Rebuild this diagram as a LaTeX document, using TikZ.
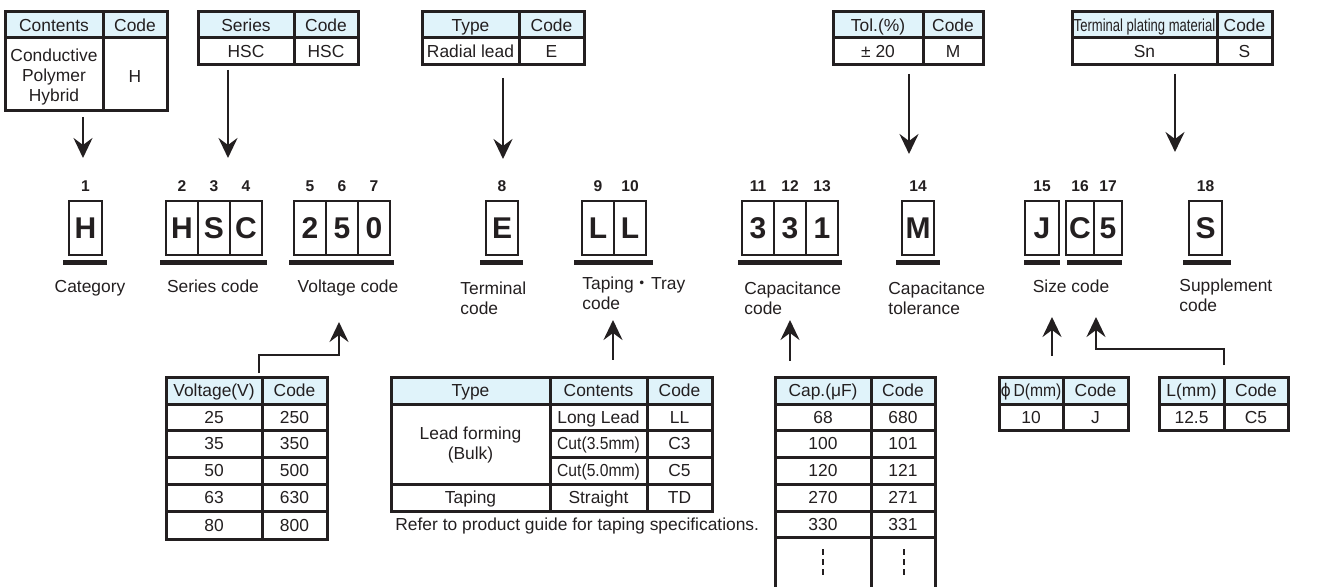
\documentclass[tikz,border=0pt]{standalone}
\usepackage{fontspec}
\setmainfont{Liberation Sans}
\newfontfamily\cjk{Noto Sans CJK JP}
\newfontfamily\dejavu{DejaVu Sans}
\usetikzlibrary{arrows.meta,positioning}
\definecolor{ink}{RGB}{35,31,32}
\definecolor{headblue}{RGB}{224,243,250}

\begin{document}
\begin{tikzpicture}[x=0.5pt, y=-0.5pt,
    every node/.style={inner sep=0pt, text=ink},
    tbl/.style={draw=ink, line width=1.5pt},
    hdr/.style={fill=headblue},
    cell/.style={font=\fontsize{8.7}{10}\selectfont, text height=6.3pt, text depth=0pt},
    mcell/.style={font=\fontsize{8.7}{10}\selectfont, align=center},
    lbl/.style={font=\fontsize{8.7}{10}\selectfont, align=left},
    num/.style={font=\bfseries\fontsize{7.8}{9}\selectfont},
    codebox/.style={draw=ink, line width=0.6pt, minimum width=16pt, minimum height=27pt,
        font=\bfseries\fontsize{15}{18}\selectfont, text height=10.8pt, text depth=0pt},
    bar/.style={draw=ink, line width=2.5pt},
    arr/.style={draw=ink, line width=1.4pt, line join=miter,
        -{Stealth[length=10pt, width=9.5pt, inset=3.5pt]}}]
    \useasboundingbox (0,0) rectangle (1321,587);

    % Top tables
    \fill[hdr] (5,12) rectangle (167,38);
    \draw[tbl] (5,12) rectangle (167,111) (5,38) -- (167,38) (103,12) -- (103,111);
    \node[cell] (conth) at (54,25) {Contents};
    \node[cell] (contc) at (135,25) {Code};
    \node[mcell] (contv) at (54,77) {Conductive\\Polymer\\Hybrid};
    \node[cell] (contk) at (135,76) {H};

    \fill[hdr] (198,12) rectangle (358,38);
    \draw[tbl] (198,12) rectangle (358,65) (198,38) -- (358,38) (294,12) -- (294,65);
    \node[cell] (serh) at (246,25) {Series};
    \node[cell] (serc) at (326,25) {Code};
    \node[cell] (serv) at (246,51.5) {HSC};
    \node[cell] (serk) at (326,51.5) {HSC};

    \fill[hdr] (422,12) rectangle (584,38);
    \draw[tbl] (422,12) rectangle (584,65) (422,38) -- (584,38) (519,12) -- (519,65);
    \node[cell] (typh) at (470.5,25) {Type};
    \node[cell] (typc) at (551.5,25) {Code};
    \node[cell] (typv) at (470.5,51.5) {Radial lead};
    \node[cell] (typk) at (551.5,51.5) {E};

    \fill[hdr] (833,12) rectangle (983,38);
    \draw[tbl] (833,12) rectangle (983,65) (833,38) -- (983,38) (923,12) -- (923,65);
    \node[cell] (tolh) at (878,25) {Tol.(\%)};
    \node[cell] (tolc) at (953,25) {Code};
    \node[cell] (tolv) at (878,51.5) {± 20};
    \node[cell] (tolk) at (953,51.5) {M};

    \fill[hdr] (1072,12) rectangle (1272,38);
    \draw[tbl] (1072,12) rectangle (1272,65) (1072,38) -- (1272,38) (1217,12) -- (1217,65);
    \node[cell] (plth) at (1144.5,25) {\scalebox{0.75}[1]{Terminal plating material}};
    \node[cell] (pltc) at (1244.5,25) {Code};
    \node[cell] (pltv) at (1144.5,51.5) {Sn};
    \node[cell] (pltk) at (1244.5,51.5) {S};

    % Down arrows
    \coordinate (contout) at (83,117);  \coordinate (catin) at (83,158);
    \coordinate (serout) at (228,70);   \coordinate (serin) at (228,158);
    \coordinate (typout) at (503,78);   \coordinate (terin) at (503,159);
    \coordinate (tolout) at (909,74);   \coordinate (tolin) at (909,154);
    \coordinate (pltout) at (1175,74);  \coordinate (supin) at (1175,152);
    \draw[arr] (contout) -- (catin);
    \draw[arr] (serout) -- (serin);
    \draw[arr] (typout) -- (terin);
    \draw[arr] (tolout) -- (tolin);
    \draw[arr] (pltout) -- (supin);

    % Code boxes
    \node[codebox, minimum width=16.5pt] (b1) at (85.5,228) {H};
    \foreach \ch [count=\i from 2] in {H,S,C}
        \node[codebox] (b\i) at (182+32*\i-64,228) {\ch};
    \foreach \ch [count=\i from 5] in {2,5,0}
        \node[codebox] (b\i) at (310+32*\i-160,228) {\ch};
    \node[codebox] (b8) at (502,228) {E};
    \foreach \ch [count=\i from 9] in {L,L}
        \node[codebox] (b\i) at (598+32*\i-288,228) {\ch};
    \foreach \ch [count=\i from 11] in {3,3,1}
        \node[codebox] (b\i) at (758+32*\i-352,228) {\ch};
    \node[codebox] (b14) at (918,228) {M};
    \node[codebox, minimum width=17pt] (b15) at (1042,228) {J};
    \foreach \ch [count=\i from 16] in {C,5}
        \node[codebox, minimum width=14pt] (b\i) at (1080+28*\i-448,228) {\ch};
    \node[codebox, minimum width=16.5pt] (b18) at (1205.5,228) {S};
    \foreach \i in {1,...,18}
        \node[num, above=4pt of b\i] (n\i) {\i};

    % Underline bars
    \foreach \a/\b in {63/107,160/267,289/394,480/523,574/653,738/842,896/940,1024/1060,1067/1122,1183/1231}
        \draw[bar] (\a,263) -- (\b,263);

    % Field labels
    \node[lbl, anchor=base] (catlbl) at (90,293) {Category};
    \node[lbl, anchor=base] (serlbl) at (213,293) {Series code};
    \node[lbl, anchor=base] (vollbl) at (348,293) {Voltage code};
    \node[lbl, anchor=north west] (terlbl) at (460,281) {Terminal\\code};
    \node[lbl, anchor=north west] (taplbl) at (582,276) {Taping{\cjk ・}Tray\\code};
    \node[lbl, anchor=north west] (caplbl) at (744,281) {Capacitance\\code};
    \node[lbl, anchor=north west] (tollbl) at (888,281) {Capacitance\\tolerance};
    \node[lbl, anchor=base] (sizlbl) at (1071,293) {Size code};
    \node[lbl, anchor=north west] (suplbl) at (1179,278) {Supplement\\code};

    % Up arrows
    \coordinate (voltop) at (259,373);  \coordinate (volin) at (339,322);
    \coordinate (taptop) at (613,360);  \coordinate (tapin) at (613,320);
    \coordinate (captop) at (790,361);  \coordinate (capin) at (790,320);
    \coordinate (diatop) at (1052,356); \coordinate (diain) at (1052,317);
    \coordinate (lentop) at (1224,365); \coordinate (lenin) at (1096,317);
    \draw[arr] (voltop) |- (339,355) -- (volin);
    \draw[arr] (taptop) -- (tapin);
    \draw[arr] (captop) -- (capin);
    \draw[arr] (diatop) -- (diain);
    \draw[arr] (lentop) |- (1096,349) -- (lenin);

    % Voltage table
    \fill[hdr] (166,377) rectangle (327,404);
    \draw[tbl] (166,377) rectangle (327,539) (262,377) -- (262,539);
    \foreach \y in {404,430,457,484,511}
        \draw[tbl] (166,\y) -- (327,\y);
    \node[cell] (volh) at (214,390.5) {Voltage(V)};
    \node[cell] (volc) at (294.5,390.5) {Code};
    \foreach \y/\v/\c [count=\r] in {417/25/250,443.5/35/350,470.5/50/500,497.5/63/630,525/80/800}{
        \node[cell] (volv\r) at (214,\y) {\v};
        \node[cell] (volk\r) at (294.5,\y) {\c};
    }

    % Taping table
    \fill[hdr] (391,377) rectangle (712,404);
    \draw[tbl] (391,377) rectangle (712,511);
    \draw[tbl] (391,404) -- (712,404) (391,484) -- (712,484)
        (550,377) -- (550,511) (647,377) -- (647,511)
        (550,430) -- (712,430) (550,457) -- (712,457);
    \node[cell] (taph) at (470.5,390.5) {Type};
    \node[cell] (tapn) at (598.5,390.5) {Contents};
    \node[cell] (tapc) at (679.5,390.5) {Code};
    \node[mcell] (tapbulk) at (470.5,445) {Lead forming\\(Bulk)};
    \node[cell] (taptape) at (470.5,497.5) {Taping};
    \foreach \y/\n/\c [count=\r] in {417/Long Lead/LL,443.5/\scalebox{0.9}[1]{Cut(3.5mm)}/C3,
            470.5/\scalebox{0.9}[1]{Cut(5.0mm)}/C5,497.5/Straight/TD}{
        \node[cell] (tapv\r) at (598.5,\y) {\n};
        \node[cell] (tapk\r) at (679.5,\y) {\c};
    }
    \node[lbl, anchor=base west] (tapnote) at (395,530) {Refer to product guide for taping specifications.};

    % Capacitance table
    \fill[hdr] (775,377) rectangle (935,404);
    \draw[tbl] (775,587) -- (775,377) -- (935,377) -- (935,587) (871,377) -- (871,587);
    \foreach \y in {404,430,457,484,511,537}
        \draw[tbl] (775,\y) -- (935,\y);
    \node[cell] (caph) at (823,390.5) {Cap.(μF)};
    \node[cell] (capc) at (903,390.5) {Code};
    \foreach \y/\v/\c [count=\r] in {417/68/680,443.5/100/101,470.5/120/121,497.5/270/271,524/330/331}{
        \node[cell] (capv\r) at (823,\y) {\v};
        \node[cell] (capk\r) at (903,\y) {\c};
    }
    \draw[ink, line width=0.6pt, dash pattern=on 3pt off 2pt] (823,549) -- (823,578) (904,549) -- (904,578);

    % Size tables
    \fill[hdr] (999,377) rectangle (1128,404);
    \draw[tbl] (999,377) rectangle (1128,430) (999,404) -- (1128,404) (1063,377) -- (1063,430);
    \node[cell] (diah) at (1031,390.5) {\scalebox{0.9}[1]{{\dejavu ϕ}\,D(mm)}};
    \node[cell] (diac) at (1095.5,390.5) {Code};
    \node[cell] (diav) at (1031,417) {10};
    \node[cell] (diak) at (1095.5,417) {J};

    \fill[hdr] (1159,377) rectangle (1288,404);
    \draw[tbl] (1159,377) rectangle (1288,430) (1159,404) -- (1288,404) (1224,377) -- (1224,430);
    \node[cell] (lenh) at (1191.5,390.5) {L(mm)};
    \node[cell] (lenc) at (1256,390.5) {Code};
    \node[cell] (lenv) at (1191.5,417) {12.5};
    \node[cell] (lenk) at (1256,417) {C5};
\end{tikzpicture}
\end{document}
